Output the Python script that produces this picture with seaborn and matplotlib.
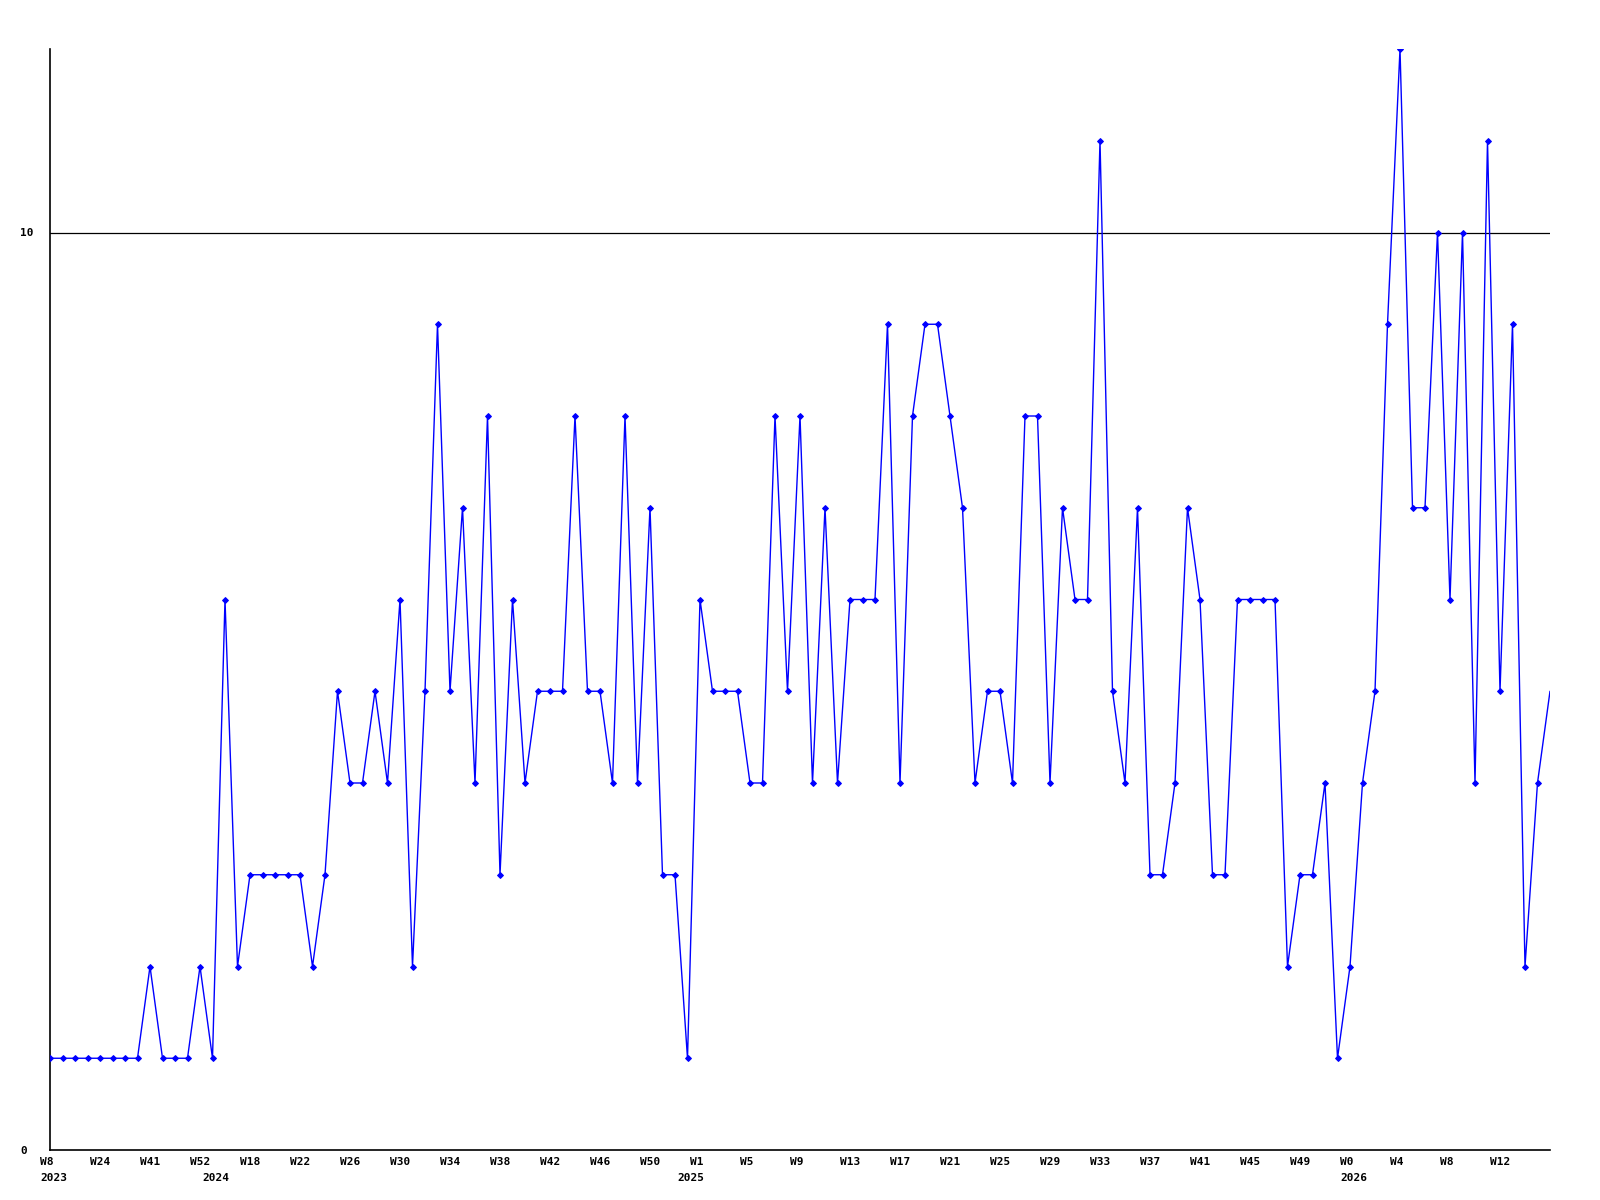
import numpy as np
import pandas as pd
import matplotlib
matplotlib.use("Agg")
import matplotlib.pyplot as plt
import matplotlib.transforms as mtransforms
import seaborn as sns

# ---- data ----
values = [1, 1, 1, 1, 1, 1, 1, 1, 2, 1, 1, 1, 2, 1, 6, 2,
          3, 3, 3, 3, 3, 2, 3, 5, 4, 4, 5, 4, 6, 2, 5, 9,
          5, 7, 4, 8, 3, 6, 4, 5, 5, 5, 8, 5, 5, 4, 8, 4,
          7, 3, 3, 1, 6, 5, 5, 5, 4, 4, 8, 5, 8, 4, 7, 4,
          6, 6, 6, 9, 4, 8, 9, 9, 8, 7, 4, 5, 5, 4, 8, 8,
          4, 7, 6, 6, 11, 5, 4, 7, 3, 3, 4, 7, 6, 3, 3, 6,
          6, 6, 6, 2, 3, 3, 4, 1, 2, 4, 5, 9, 12, 7, 7, 10,
          6, 10, 4, 11, 5, 9, 2, 4, 5]
week_labels = ["W8", "W24", "W41", "W52", "W18", "W22", "W26", "W30", "W34",
               "W38", "W42", "W46", "W50", "W1", "W5", "W9", "W13", "W17",
               "W21", "W25", "W29", "W33", "W37", "W41", "W45", "W49", "W0",
               "W4", "W8", "W12"]
tick_step = 4
year_labels = ["2023", "2024", "2025", "2026"]
year_start_index = [0, 13, 51, 104]
y_ticks = [0, 10]
threshold = 10

df = pd.DataFrame({"idx": np.arange(len(values)), "value": values})

sns.set_style("white")
plt.rcParams["font.family"] = ["DejaVu Sans Mono"]
plt.rcParams["font.weight"] = "bold"
plt.rcParams["text.color"] = "black"
plt.rcParams["xtick.color"] = "black"
plt.rcParams["ytick.color"] = "black"

fig = plt.figure(figsize=(16, 12), dpi=100)
ax = fig.add_axes([50 / 1600, 50 / 1200, 1500 / 1600, 1101 / 1200])

sns.lineplot(data=df, x="idx", y="value", ax=ax, color="#0000ff",
             linewidth=1.0, marker="D", markersize=3,
             markeredgecolor="#0000ff", markerfacecolor="#0000ff",
             markevery=slice(0, len(values) - 1), zorder=3)

ax.axhline(threshold, color="black", linewidth=0.9, zorder=2)

ax.set_xlim(0, len(values) - 1)
ax.set_ylim(0, max(values))

for s in ["top", "right"]:
    ax.spines[s].set_visible(False)
for s in ["left", "bottom"]:
    ax.spines[s].set_color("black")
    ax.spines[s].set_linewidth(1.2)

ax.set_xlabel("")
ax.set_ylabel("")

# x tick labels, left aligned slightly left of the point
ax.set_xticks(np.arange(0, len(values), tick_step)[:len(week_labels)])
ax.set_xticklabels(week_labels, fontsize=8, fontweight="bold", color="black")
ax.tick_params(axis="x", length=0, pad=5, labelcolor="black")
shift = mtransforms.ScaledTranslation(-10 / 100, 0, fig.dpi_scale_trans)
for lab in ax.get_xticklabels():
    lab.set_horizontalalignment("left")
    lab.set_transform(lab.get_transform() + shift)

# y tick labels, left aligned at x=20px
ax.set_yticks(y_ticks)
ax.set_yticklabels([str(v) for v in y_ticks], fontsize=8, fontweight="bold",
                   color="black")
ax.tick_params(axis="y", length=0, pad=30 * 0.72, labelcolor="black")
for lab in ax.get_yticklabels():
    lab.set_horizontalalignment("left")

# year labels
trans = mtransforms.blended_transform_factory(ax.transData, ax.transAxes)
for yl, si in zip(year_labels, year_start_index):
    ax.annotate(yl, xy=(si + 0.3, 0), xycoords=trans,
                xytext=(0, -23), textcoords="offset pixels",
                ha="center", va="top", fontsize=8, fontweight="bold",
                color="black")

ax.grid(False)
fig.savefig("out.png", dpi=100, facecolor="white")
